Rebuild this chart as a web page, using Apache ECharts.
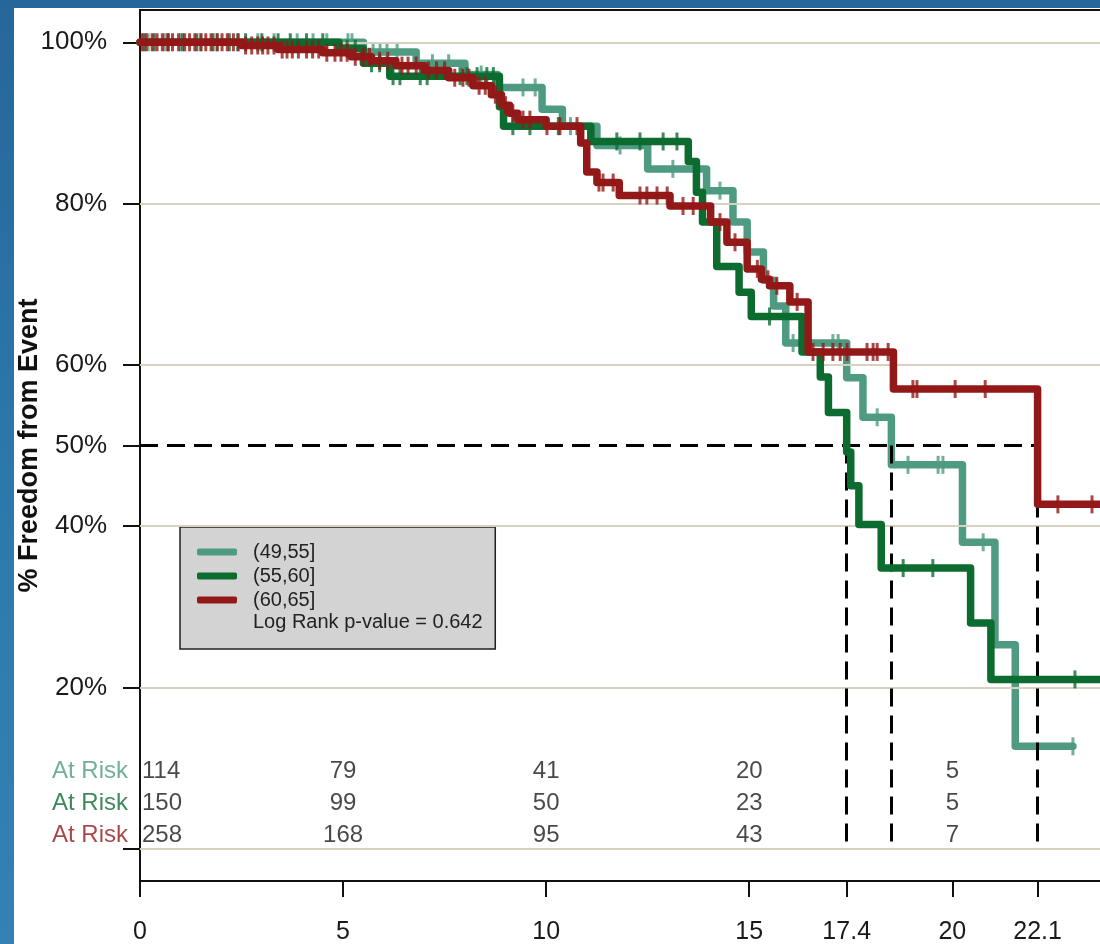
<!DOCTYPE html>
<html>
<head>
<meta charset="utf-8">
<script src="https://cdn.jsdelivr.net/npm/echarts@6/dist/echarts.min.js"></script>
<style>
  html, body { margin: 0; padding: 0; }
  body { width: 1100px; height: 944px; position: relative; overflow: hidden;
         background: linear-gradient(180deg, #276699 0%, #2d78aa 50%, #3382b3 100%); }
  #panel { position: absolute; left: 14px; top: 8px; right: 0; bottom: 0; background: #ffffff; }
  #chart { position: absolute; left: 0; top: 0; width: 1100px; height: 944px; }
</style>
</head>
<body>
<div id="panel"></div>
<div id="chart"></div>
<script>
// ---------------- data ----------------
const groupNames = ['(49,55]', '(55,60]', '(60,65]'];

const tealTimes = [0, 5.5, 6.8, 8.0, 8.8, 9.9, 10.4, 11.25, 12.5, 13.95, 14.6, 14.95, 15.35, 15.6, 15.9, 17.4, 17.8, 18.5, 20.25, 21.05, 21.55, 22.97];
const tealSurv  = [100, 98.8, 97.4, 96.0, 94.4, 91.7, 89.6, 87.2, 84.3, 81.6, 77.7, 74.0, 70.5, 67.3, 62.7, 58.4, 53.5, 47.6, 38.0, 25.3, 12.7, 12.7];

const greenTimes = [0, 4.9, 5.5, 6.15, 8.85, 8.95, 11.1, 13.5, 13.7, 13.85, 14.2, 14.75, 15.05, 16.3, 16.75, 16.95, 17.4, 17.5, 17.7, 18.25, 20.45, 20.95, 24.5];
const greenSurv  = [100, 99.2, 97.4, 95.8, 92.0, 89.6, 87.7, 85.2, 81.4, 77.7, 72.2, 69.0, 66.0, 61.6, 58.5, 54.1, 49.2, 45.0, 40.2, 34.8, 28.0, 21.0, 21.0];

const redTimes = [0, 2.5, 3.4, 4.5, 5.2, 5.7, 6.3, 7.0, 7.6, 8.2, 8.65, 8.9, 9.1, 9.3, 10.0, 10.85, 11.0, 11.25, 11.8, 13.05, 14.05, 14.45, 14.95, 15.3, 15.5, 16.0, 16.45, 18.55, 22.1, 24.5];
const redSurv  = [100, 99.6, 99.1, 98.7, 98.2, 97.7, 97.1, 96.5, 95.6, 94.6, 93.5, 92.2, 91.2, 90.4, 89.6, 87.5, 83.9, 82.6, 81.0, 79.7, 77.7, 75.2, 71.9, 70.6, 69.8, 67.8, 61.6, 57.0, 42.7, 42.7];

const tealCensor = [0.2, 0.6, 1.0, 1.5, 1.9, 2.4, 2.9, 3.3, 3.87, 4.26, 4.6, 5.12, 5.22, 5.74, 5.91, 6.08, 6.33, 7.2, 7.6, 8.4, 9.43, 9.73, 10.6, 11.82, 13.12, 14.28, 16.08, 17.06, 17.19, 18.15, 18.91, 19.65, 19.77, 20.76, 22.97];
const greenCensor = [0.1, 0.35, 0.7, 1.05, 1.4, 1.8, 2.2, 2.6, 3.0, 3.4, 3.7, 4.1, 4.5, 5.1, 5.3, 5.7, 5.9, 6.23, 6.4, 6.9, 7.07, 7.88, 8.05, 8.3, 8.54, 8.7, 9.18, 9.6, 10.3, 11.74, 12.31, 12.88, 13.22, 15.5, 18.79, 19.52, 23.02];
const redCensor = [0.05, 0.15, 0.3, 0.42, 0.55, 0.68, 0.8, 0.95, 1.1, 1.22, 1.35, 1.5, 1.62, 1.75, 1.9, 2.02, 2.15, 2.3, 2.42, 2.6, 2.75, 2.9, 3.02, 3.15, 3.3, 3.5, 3.62, 3.75, 3.9, 4.1, 4.25, 4.4, 4.6, 4.8, 4.95, 5.1, 5.3, 5.5, 5.65, 5.9, 6.1, 6.45, 6.6, 6.8, 7.1, 7.3, 7.5, 7.75, 7.95, 8.1, 8.35, 8.5, 8.75, 9.0, 9.18, 9.43, 9.6, 10.02, 10.34, 10.76, 11.3, 11.4, 11.65, 12.31, 12.48, 12.73, 12.98, 13.37, 13.62, 14.28, 14.65, 15.2, 15.46, 15.68, 16.18, 16.57, 16.82, 17.06, 17.24, 17.41, 17.9, 18.05, 18.15, 18.42, 19.03, 19.13, 20.07, 20.81, 22.6, 23.44];

const medianTimes = [17.4, 18.5, 22.1];
const medianLevel = 50;

const atRiskTimes = [0, 5, 10, 15, 20];
const atRisk49 = [114, 79, 41, 20, 5];
const atRisk55 = [150, 99, 50, 23, 5];
const atRisk60 = [258, 168, 95, 43, 7];

const xTickLabels = [0, 5, 10, 15, 17.4, 20, 22.1];
const yTickLabels = [20, 40, 50, 60, 80, 100];
const yTicks = [0, 20, 40, 50, 60, 80, 100];
const yGridLines = [0, 20, 40, 60, 80, 100];
const pValueText = 'Log Rank p-value = 0.642';
const yAxisTitle = '% Freedom from Event';

// ---------------- styling ----------------
const colors = ['#4f9b82', '#0c6b2f', '#931818'];
const FONT = '"Liberation Sans", Arial, Helvetica, sans-serif';
const rowY = [9.6, 5.65, 1.7];   // at-risk row positions in plot units

function survAt(times, surv, t) {
  let v = surv[0];
  for (let i = 0; i < times.length; i++) { if (times[i] <= t) v = surv[i]; }
  return v;
}
const groups = [
  { times: tealTimes, surv: tealSurv, cens: tealCensor, risk: atRisk49 },
  { times: greenTimes, surv: greenSurv, cens: greenCensor, risk: atRisk55 },
  { times: redTimes, surv: redSurv, cens: redCensor, risk: atRisk60 }
];

const series = [];
// grid lines
series.push({
  type: 'line', data: [], silent: true, z: 1,
  markLine: {
    silent: true, symbol: ['none', 'none'], label: { show: false },
    lineStyle: { color: '#d8d1c0', width: 2, type: 'solid' },
    emphasis: { disabled: true },
    data: yGridLines.map(v => ({ yAxis: v }))
  }
});
groups.forEach((g, i) => {
  series.push({
    name: groupNames[i], type: 'line', step: 'end', showSymbol: false, symbol: 'none',
    color: colors[i], z: 3 + i * 2, clip: true,
    lineStyle: { color: colors[i], width: 7.5, cap: 'round', join: 'round' },
    data: g.times.map((t, k) => [t, g.surv[k]])
  });
  series.push({
    name: groupNames[i] + ' censored', type: 'scatter', symbol: 'rect', symbolSize: [3, 18],
    color: colors[i], z: 4 + i * 2, clip: true,
    itemStyle: { color: colors[i] },
    data: g.cens.map(t => [t, survAt(g.times, g.surv, t)])
  });
});
// median dashed lines
const dashData = [[{ coord: [0, medianLevel] }, { coord: [Math.max(...medianTimes), medianLevel] }]];
medianTimes.forEach(t => dashData.push([{ coord: [t, medianLevel] }, { coord: [t, 0] }]));
series.push({
  type: 'line', data: [], silent: true, z: 20,
  markLine: {
    silent: true, symbol: ['none', 'none'], label: { show: false },
    lineStyle: { color: '#000', width: 3, type: [18, 9] },
    emphasis: { disabled: true },
    data: dashData
  }
});
// at-risk table
groups.forEach((g, i) => {
  const items = atRiskTimes.map((t, k) => ({
    value: [t, rowY[i]],
    label: k === 0
      ? { show: true, position: 'right', distance: 2, formatter: String(g.risk[k]) }
      : { show: true, position: 'inside', formatter: String(g.risk[k]) }
  }));
  items.push({
    value: [0, rowY[i]],
    label: { show: true, position: 'left', distance: 12, formatter: 'At Risk', color: colors[i] }
  });
  series.push({
    type: 'scatter', symbolSize: 0, silent: true, z: 25, clip: false,
    label: { show: true, fontSize: 24, color: '#1a1a1a', fontFamily: FONT },
    data: items
  });
});

const chart = echarts.init(document.getElementById('chart'), null, { width: 1100, height: 944, renderer: 'canvas' });
const gridLeft = 140, gridTop = 10, gridHeight = 871, gridWidth = 980;
const pxPerUnit = 40.615;
const xMax = gridWidth / pxPerUnit;

chart.setOption({
  animation: false,
  backgroundColor: 'transparent',
  textStyle: { fontFamily: FONT },
  grid: { left: gridLeft, top: gridTop, width: gridWidth, height: gridHeight, show: true,
          outerBoundsMode: 'none', containLabel: false,
          borderColor: '#111', borderWidth: 2, backgroundColor: 'transparent' },
  xAxis: {
    type: 'value', min: 0, max: xMax,
    axisLine: { show: true, onZero: false, lineStyle: { color: '#111', width: 2 } },
    axisTick: { show: true, length: 16, lineStyle: { color: '#111', width: 2 }, customValues: xTickLabels },
    axisLabel: { show: true, fontSize: 25, color: '#1a1a1a', margin: 39, fontFamily: FONT,
                 customValues: xTickLabels, formatter: v => String(v) },
    splitLine: { show: false }
  },
  yAxis: {
    type: 'value', min: -4, max: 104,
    name: yAxisTitle, nameLocation: 'middle', nameRotate: 90, nameGap: 97, nameMoveOverlap: false,
    nameTextStyle: { fontSize: 27, fontWeight: 'bold', color: '#111', fontFamily: FONT },
    axisLine: { show: true, onZero: false, lineStyle: { color: '#111', width: 2 } },
    axisTick: { show: true, length: 17, lineStyle: { color: '#111', width: 2 }, customValues: yTicks },
    axisLabel: { show: true, fontSize: 26, color: '#1a1a1a', margin: 33, fontFamily: FONT,
                 customValues: yTickLabels, formatter: v => v + '%' },
    splitLine: { show: false }
  },
  legend: {
    data: groupNames, orient: 'vertical', left: 180, top: 527,
    backgroundColor: '#d3d3d3', borderColor: '#222', borderWidth: 1.5, borderRadius: 0,
    padding: [15, 180, 39, 17], itemGap: 4, itemWidth: 40, itemHeight: 7, icon: 'roundRect',
    selectedMode: false,
    textStyle: { fontSize: 20, color: '#222', fontFamily: FONT, padding: [0, 0, 0, 11] }
  },
  graphic: [{
    type: 'text', left: 253, top: 612, z: 100,
    style: { text: pValueText, fontSize: 20, fill: '#222', fontFamily: FONT }
  }],
  series: series
});
</script>
</body>
</html>
